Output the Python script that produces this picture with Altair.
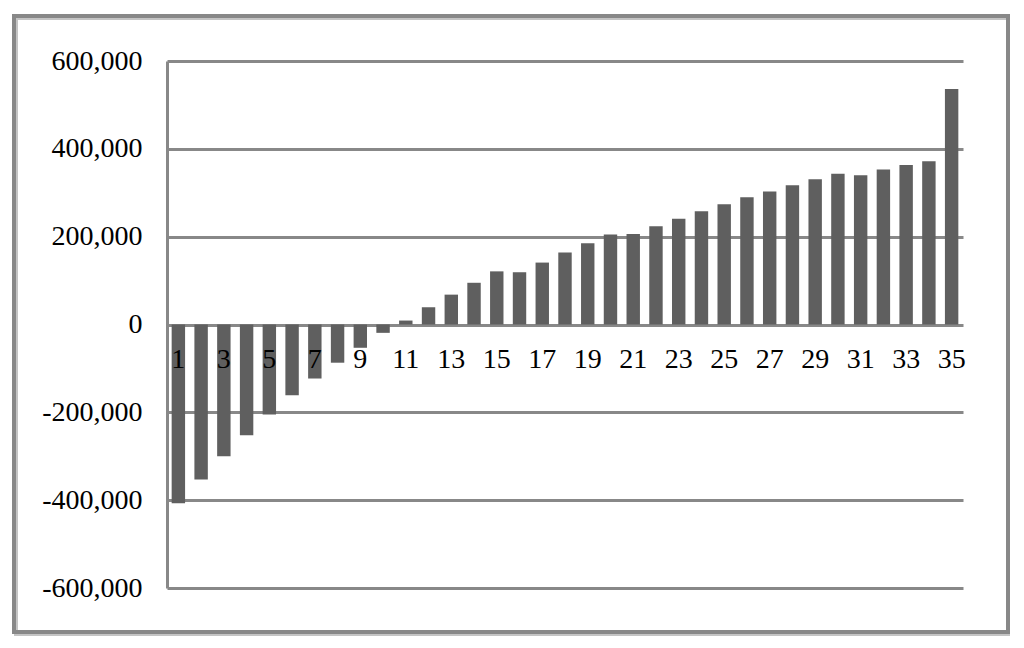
import altair as alt
import pandas as pd

categories = list(range(1, 36))
values = [-407000, -353000, -300000, -252000, -205000, -161000, -123000, -87000, -53000, -19000,
          9000, 39000, 68000, 95000, 121000, 119000, 141000, 164000, 185000, 205000,
          206000, 224000, 241000, 258000, 274000, 290000, 303000, 317000, 331000, 343000,
          340000, 353000, 363000, 372000, 536000]
x_tick_labels = [1, 3, 5, 7, 9, 11, 13, 15, 17, 19, 21, 23, 25, 27, 29, 31, 33, 35]
y_ticks = [-600000, -400000, -200000, 0, 200000, 400000, 600000]

df = pd.DataFrame({"cat": categories, "val": values})
lab = pd.DataFrame({"cat": x_tick_labels, "zero": [0] * len(x_tick_labels),
                    "txt": [str(v) for v in x_tick_labels]})

FONT = "Liberation Serif"
W, H = 796, 527

xscale = alt.Scale(domain=categories, paddingInner=0.41, paddingOuter=0.205)
yscale = alt.Scale(domain=[-600000, 600000], nice=False)

bars = alt.Chart(df).mark_bar(color="#5f5f5f").encode(
    x=alt.X("cat:O", scale=xscale, axis=None),
    y=alt.Y("val:Q", scale=yscale, title=None,
            axis=alt.Axis(values=y_ticks, grid=True, gridColor="#888888", gridWidth=3,
                          domain=True, domainColor="#888888", domainWidth=3,
                          ticks=False, tickSize=0, labelPadding=25,
                          labelFont=FONT, labelFontSize=28, labelColor="#000000",
                          labelExpr="datum.value < 0 ? '-' + format(-datum.value, ',') : format(datum.value, ',')")),
)

labels = alt.Chart(lab).mark_text(font=FONT, fontSize=28, color="#000000",
                                  baseline="alphabetic", align="center", dy=43).encode(
    x=alt.X("cat:O", scale=xscale, axis=None),
    y=alt.Y("zero:Q", scale=yscale),
    text="txt:N",
)

frame_shadow = alt.Chart(df).mark_rect(filled=False, stroke="#c4c4c4", strokeWidth=3).encode(
    x=alt.value(-151), x2=alt.value(843), y=alt.value(-43), y2=alt.value(573))
frame = alt.Chart(df).mark_rect(filled=False, stroke="#888888", strokeWidth=3.5).encode(
    x=alt.value(-153), x2=alt.value(841), y=alt.value(-45), y2=alt.value(571))

chart = alt.layer(frame_shadow, frame, bars, labels).properties(
    width=W, height=H,
    autosize=alt.AutoSizeParams(type="none"),
    padding={"left": 159, "top": 53, "right": 47, "bottom": 48},
    background="white",
).configure_view(stroke=None)

chart.save("out.html", embed_options={"renderer": "svg", "actions": False})
